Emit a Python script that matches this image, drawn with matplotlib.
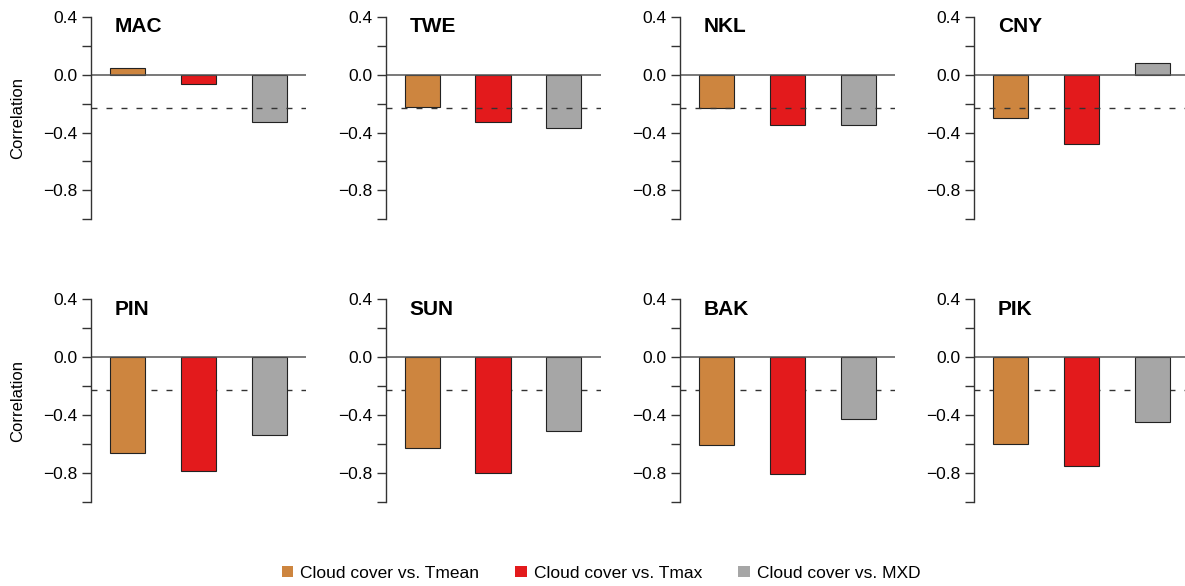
import numpy as np
import matplotlib
matplotlib.use('Agg')
import matplotlib.pyplot as plt
from matplotlib.patches import Patch

plt.rcParams['font.family'] = ['Liberation Sans', 'DejaVu Sans']

# data
sites = ['MAC', 'TWE', 'NKL', 'CNY', 'PIN', 'SUN', 'BAK', 'PIK']
r_tmean = [0.05, -0.22, -0.23, -0.30, -0.66, -0.63, -0.61, -0.60]
r_tmax = [-0.06, -0.33, -0.35, -0.48, -0.79, -0.80, -0.81, -0.75]
r_mxd = [-0.33, -0.37, -0.35, 0.08, -0.54, -0.51, -0.43, -0.45]
sig_level = -0.23
series_names = ['Cloud cover vs. Tmean', 'Cloud cover vs. Tmax', 'Cloud cover vs. MXD']
colors = ['#CD853F', '#E31A1C', '#A6A6A6']

W, H = 1185, 586
fig = plt.figure(figsize=(W / 100, H / 100), dpi=100)

col_x = [91, 385.5, 680, 974]  # axis x position in pixels
row_y = [(17.3, 219.0), (299.3, 501.7)]  # top/bottom of y axis in pixels
ax_w = 215

for i, site in enumerate(sites):
    row, col = divmod(i, 4)
    top, bot = row_y[row]
    ax = fig.add_axes([col_x[col] / W, 1 - bot / H, ax_w / W, (bot - top) / H])
    vals = [r_tmean[i], r_tmax[i], r_mxd[i]]
    x = np.arange(3) * 2
    # dashed significance line: over the bars on top row, under them below
    z_dash = 3 if row == 0 else 1
    ax.axhline(sig_level, color='#333333', lw=1, ls=(0, (4.3, 6.5)), zorder=z_dash)
    ax.bar(x, vals, width=1.0, color=colors, edgecolor='#222222', lw=0.8, zorder=2)
    ax.axhline(0, color='#555555', lw=1.1, zorder=2.5)
    ax.set_xlim(-1.04, 5.04)
    ax.set_ylim(-1.0, 0.4)
    for s in ['top', 'right', 'bottom']:
        ax.spines[s].set_visible(False)
    ax.spines['left'].set_color('#333333')
    ax.spines['left'].set_linewidth(1.0)
    ax.set_xticks([])
    ticks = np.round(np.arange(-1.0, 0.41, 0.2), 1)
    ax.set_yticks(ticks)
    labels = []
    for t in ticks:
        if t in (0.4, 0.0, -0.4, -0.8):
            labels.append(f'{t:.1f}'.replace('-', '\u2212') if t != 0 else '0.0')
        else:
            labels.append('')
    ax.set_yticklabels(labels)
    ax.tick_params(axis='y', length=6.5, width=1.0, color='#333333', labelsize=12.5, pad=3)
    ax.patch.set_visible(False)
    ax.text(0.112, 0.952, site, transform=ax.transAxes, fontsize=15, fontweight='bold',
            ha='left', va='center')
    if col == 0:
        cy = 1 - ((top + bot) / 2) / H
        fig.text(18 / W, cy, 'Correlation', rotation=90, ha='center', va='center', fontsize=12)

handles = [Patch(facecolor=c, edgecolor='none') for c in colors]
fig.legend(handles, series_names, loc='center', bbox_to_anchor=(601 / W, 1 - 573 / H), ncol=3,
           frameon=False, fontsize=12.5, handlelength=0.65, handleheight=0.65,
           handletextpad=0.4, columnspacing=2.1)

fig.savefig('out.png', dpi=100)
